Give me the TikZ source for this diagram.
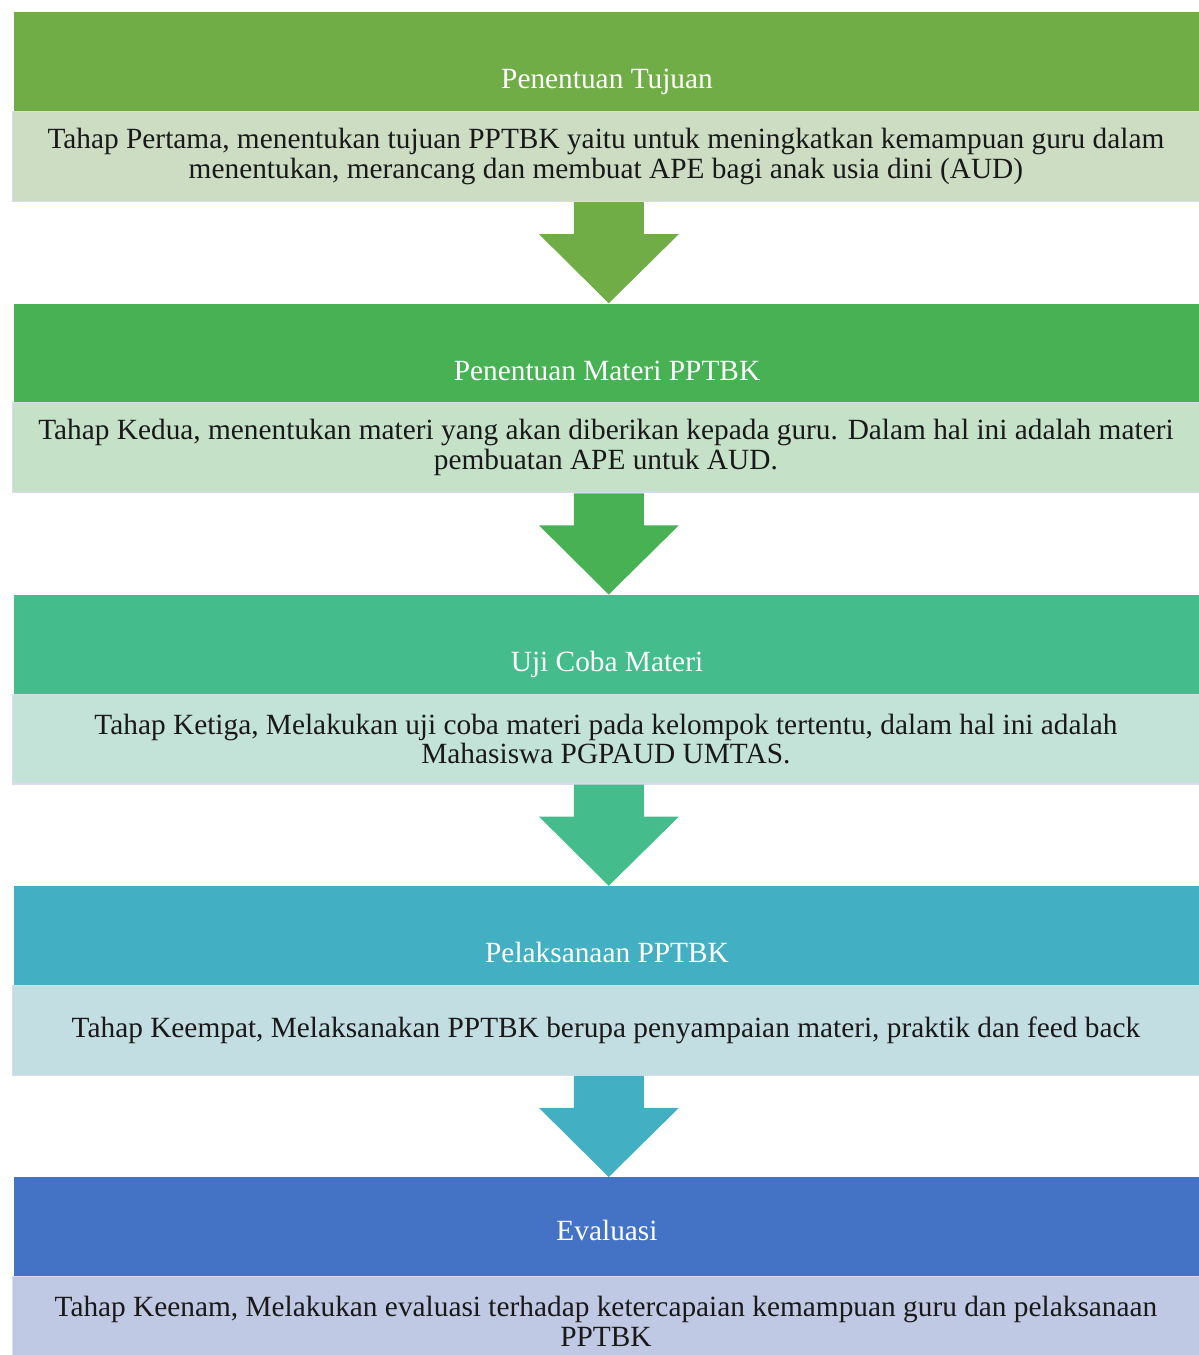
\documentclass[tikz,border=0pt]{standalone}
\usepackage{fontspec}
\setmainfont{Liberation Serif}
\usepackage{tikz}
\usetikzlibrary{calc, positioning}
\definecolor{mainBlack}{gray}{0.1}
\definecolor{edgeGray}{HTML}{DADBEC}
\definecolor{headA}{HTML}{70AD47}
\definecolor{headB}{HTML}{47B153}
\definecolor{headC}{HTML}{44BC8B}
\definecolor{headD}{HTML}{43AFC2}
\definecolor{headE}{HTML}{4472C4}
\definecolor{bodyA}{HTML}{CCDDC4}
\definecolor{bodyB}{HTML}{C5E2C9}
\definecolor{bodyC}{HTML}{C4E3D8}
\definecolor{bodyD}{HTML}{C2DEE3}
\definecolor{bodyE}{HTML}{C0C9E4}

\begin{document}
\begin{tikzpicture}[x=0.02cm, y=-0.02cm,
    headbox/.style={rectangle, anchor=north west, inner sep=0pt, minimum width=23.7cm, minimum height=1.98cm},
    bodybox/.style={rectangle, anchor=north west, inner sep=0pt, minimum width=23.74cm, minimum height=1.8cm, align=center, draw=edgeGray, line width=0.6pt, text=mainBlack, font=\fontsize{16.7}{17}\selectfont},
    title/.style={anchor=base, text=white, font=\fontsize{16.7}{18}\selectfont}]
    \useasboundingbox (0,0) rectangle (1199,1355);

    % Steps
    \foreach \i/\hcol/\bcol/\toff/\ttl/\txt in {
        1/headA/bodyA/77/{Penentuan Tujuan}/{Tahap Pertama, menentukan tujuan PPTBK yaitu untuk meningkatkan kemampuan guru dalam\\menentukan, merancang dan membuat APE bagi anak usia dini (AUD)},
        2/headB/bodyB/77/{Penentuan Materi PPTBK}/{Tahap Kedua, menentukan materi yang akan diberikan kepada guru. Dalam hal ini adalah materi\\pembuatan APE untuk AUD.},
        3/headC/bodyC/77/{Uji Coba Materi}/{Tahap Ketiga, Melakukan uji coba materi pada kelompok tertentu, dalam hal ini adalah\\Mahasiswa PGPAUD UMTAS.},
        4/headD/bodyD/77/{Pelaksanaan PPTBK}/{Tahap Keempat, Melaksanakan PPTBK berupa penyampaian materi, praktik dan feed back},
        5/headE/bodyE/63/{Evaluasi}/{Tahap Keenam, Melakukan evaluasi terhadap ketercapaian kemampuan guru dan pelaksanaan\\PPTBK}} {
        \pgfmathsetmacro{\ytop}{12+291.25*(\i-1)}
        \node[headbox, fill=\hcol] (h\i) at (14,\ytop) {};
        \node[title] (t\i) at (607,\ytop+\toff) {\ttl};
        \node[bodybox, fill=\bcol] (b\i) at (12,\ytop+99) {\txt};
    }

    % Arrows
    \foreach \i/\j/\hcol in {1/2/headA, 2/3/headB, 3/4/headC, 4/5/headD}
        \fill[\hcol] ($(b\i.south)+(-32,0)$) -- ($(b\i.south)+(38,0)$) -- ($(b\i.south)+(38,32)$) -- ($(b\i.south)+(73,32)$)
            -- ($(h\j.north)+(2,0)$) -- ($(b\i.south)+(-67,32)$) -- ($(b\i.south)+(-32,32)$) -- cycle;
\end{tikzpicture}
\end{document}
